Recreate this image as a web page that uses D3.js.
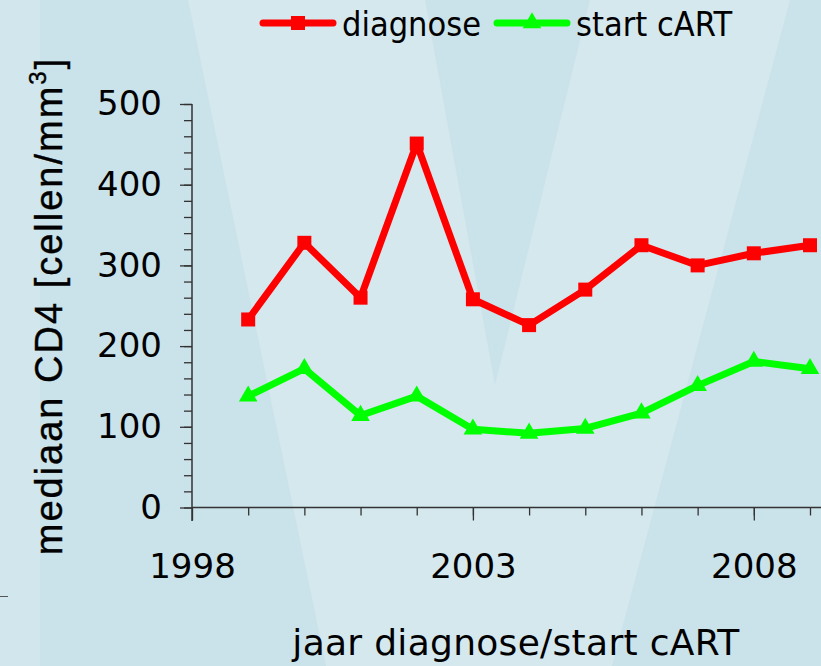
<!DOCTYPE html>
<html lang="nl">
<head>
<meta charset="UTF-8">
<title>mediaan CD4</title>
<script src="https://cdn.jsdelivr.net/npm/d3@7"></script>
<style>
  body { margin: 0; background: #cae2e9; }
  svg { display: block; }
  .tick text { font-family: "DejaVu Sans", sans-serif; font-size: 34px; fill: #000; }
  .legend text { font-family: "DejaVu Sans Condensed", "DejaVu Sans", sans-serif; font-stretch: condensed; font-size: 34px; }
</style>
</head>
<body>
<svg id="chart"></svg>
<script>
// jaren en waarden (mediaan CD4, cellen/mm3)
const years = [1999, 2000, 2001, 2002, 2003, 2004, 2005, 2006, 2007, 2008, 2009];
const diagnose = [233, 328, 260, 451, 258, 226, 270, 325, 300, 315, 325];
const startCART = [138, 172, 114, 138, 97, 92, 98, 117, 151, 181, 172];
const yTicks = [0, 100, 200, 300, 400, 500];
const xTicks = [1998, 2003, 2008];

const width = 821, height = 666;

const svg = d3.select("#chart")
  .attr("width", width)
  .attr("height", height);

// achtergrond met lichte V-vormen
const bg = svg.append("g");
bg.append("rect").attr("width", width).attr("height", height).attr("fill", "#cae2e9");
bg.append("rect").attr("width", 40).attr("height", height).attr("fill", "#d2e7ed");
bg.append("path").attr("d", "M188,0 L790,0 L612,666 L326,666 Z").attr("fill", "#d4e8ee");
bg.append("path").attr("d", "M425,0 L590,0 L495,385 Z").attr("fill", "#cae2e9");
bg.append("line").attr("x1", 0).attr("x2", 8).attr("y1", 596.5).attr("y2", 596.5)
  .attr("stroke", "#555").attr("stroke-width", 1);

const x = d3.scaleLinear().domain([1998, 2009]).range([192, 810]);
const y = d3.scaleLinear().domain([0, 500]).range([507.5, 104]);

// y-as: kleine streepjes per 20, grote per 100
svg.append("g")
  .attr("transform", "translate(192,0)")
  .call(d3.axisLeft(y).tickValues(d3.range(0, 501, 20)).tickSize(8).tickFormat(""))
  .call(g => g.select(".domain").remove())
  .selectAll("line").attr("stroke", "#333").attr("stroke-width", 1.3);

svg.append("g")
  .attr("transform", "translate(192,0)")
  .call(d3.axisLeft(y).tickValues(yTicks).tickSize(12).tickPadding(18))
  .call(g => g.select(".domain").remove())
  .call(g => g.selectAll("line").attr("stroke", "#333").attr("stroke-width", 1.3));

// x-as
svg.append("g")
  .attr("transform", "translate(0,507.5)")
  .call(d3.axisBottom(x).tickValues(d3.range(1999, 2010)).tickSize(8).tickFormat(""))
  .call(g => g.select(".domain").remove())
  .selectAll("line").attr("stroke", "#333").attr("stroke-width", 1.3);

svg.append("g")
  .attr("transform", "translate(0,507.5)")
  .call(d3.axisBottom(x).tickValues(xTicks).tickSize(13).tickPadding(33).tickFormat(d3.format("d")))
  .call(g => g.select(".domain").remove())
  .call(g => g.selectAll("line").attr("stroke", "#333").attr("stroke-width", 1.3));

svg.append("line")
  .attr("x1", 192).attr("x2", width).attr("y1", 507.5).attr("y2", 507.5)
  .attr("stroke", "#333").attr("stroke-width", 1.5);
svg.append("line")
  .attr("x1", 192).attr("x2", 192).attr("y1", 104).attr("y2", 521)
  .attr("stroke", "#333").attr("stroke-width", 1.5);

// astitels
svg.append("text")
  .attr("transform", "translate(62,306) rotate(-90)")
  .attr("text-anchor", "middle")
  .style("font-family", "'Liberation Sans', Arial, sans-serif")
  .style("font-size", "38px")
  .style("letter-spacing", "2px")
  .style("stroke", "#000").style("stroke-width", "0.4px")
  .html("mediaan CD4 [cellen/mm<tspan dy='-16' font-size='24px'>3</tspan><tspan dy='16'>]</tspan>");

svg.append("text")
  .attr("x", 516).attr("y", 655)
  .attr("text-anchor", "middle")
  .style("font-family", "'DejaVu Sans', sans-serif")
  .style("font-size", "36px")
  .style("letter-spacing", "0.3px")
  .text("jaar diagnose/start cART");

// lijnen en markers
const line = d3.line().x(d => x(d[0])).y(d => y(d[1]));
const series = [
  { name: "diagnose", values: diagnose, color: "#ff0000", symbol: d3.symbolSquare, size: 196 },
  { name: "start cART", values: startCART, color: "#00ff00", symbol: d3.symbolTriangle, size: 150 }
];

series.forEach(s => {
  const pts = years.map((yr, i) => [yr, s.values[i]]);
  svg.append("path")
    .attr("d", line(pts))
    .attr("fill", "none")
    .attr("stroke", s.color)
    .attr("stroke-width", 7)
    .attr("stroke-linejoin", "round");
  svg.append("g").selectAll("path")
    .data(pts)
    .join("path")
    .attr("transform", d => `translate(${x(d[0])},${y(d[1])})`)
    .attr("d", d3.symbol().type(s.symbol).size(s.size))
    .attr("fill", s.color);
});

// legenda
const legend = svg.append("g").attr("class", "legend");
const legX = [263, 497];
series.forEach((s, i) => {
  const g = legend.append("g").attr("transform", `translate(${legX[i]},23)`);
  g.append("line").attr("x1", 0).attr("x2", 70)
    .attr("stroke", s.color).attr("stroke-width", 7).attr("stroke-linecap", "round");
  g.append("path").attr("transform", "translate(35,0)")
    .attr("d", d3.symbol().type(s.symbol).size(s.size)).attr("fill", s.color);
  g.append("text").attr("x", 79).attr("y", 13).text(s.name);
});
</script>
</body>
</html>
